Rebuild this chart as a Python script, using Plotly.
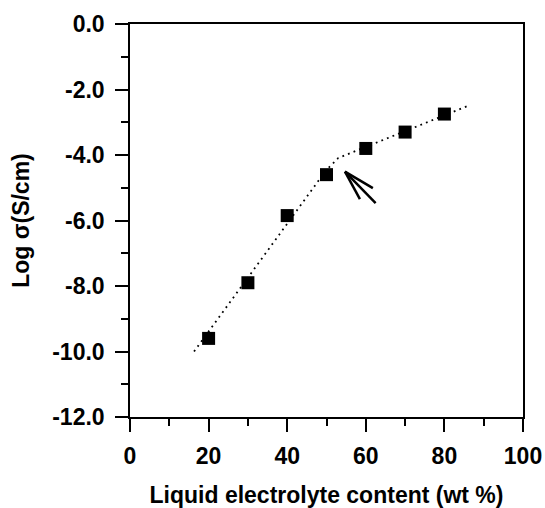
import plotly.graph_objects as go

# Data
content_wt = [20, 30, 40, 50, 60, 70, 80]
log_sigma = [-9.6, -7.9, -5.85, -4.6, -3.8, -3.3, -2.75]

# Dotted guide line
guide_x = [16.3, 50.0, 51.7, 53.0, 55.1, 86.0]
guide_y = [-10.0, -4.45, -4.25, -4.09, -3.99, -2.5]

# Arrow annotation (tip, shaft end, two barbs)
arrow_tip = (54.7, -4.51)
arrow_tail = (62.5, -5.47)
arrow_barb1 = (61.8, -5.01)
arrow_barb2 = (58.5, -5.35)

x_tickvals = [0, 20, 40, 60, 80, 100]
x_ticktext = ["<b>0</b>", "<b>20</b>", "<b>40</b>", "<b>60</b>", "<b>80</b>", "<b>100</b>"]
y_tickvals = [-12, -10, -8, -6, -4, -2, 0]
y_ticktext = ["<b>-12.0</b>", "<b>-10.0</b>", "<b>-8.0</b>", "<b>-6.0</b>",
              "<b>-4.0</b>", "<b>-2.0</b>", "<b>0.0</b>"]

FONT = "Liberation Sans, Arial, sans-serif"
FS = 23

fig = go.Figure()
fig.add_trace(go.Scatter(x=guide_x, y=guide_y, mode="lines",
                         line=dict(color="black", width=1.8, dash="1.8px,4.2px"),
                         hoverinfo="skip", showlegend=False))
fig.add_trace(go.Scatter(x=content_wt, y=log_sigma, mode="markers",
                         marker=dict(symbol="square", size=13, color="black",
                                     line=dict(width=0)),
                         showlegend=False))

for end in (arrow_tail, arrow_barb1, arrow_barb2):
    fig.add_shape(type="line", xref="x", yref="y",
                  x0=arrow_tip[0], y0=arrow_tip[1], x1=end[0], y1=end[1],
                  line=dict(color="black", width=2.5))

axis_common = dict(showline=True, linecolor="black", linewidth=1.5, mirror=True,
                   ticks="outside", ticklen=13, tickwidth=1.5, tickcolor="black",
                   showgrid=False, zeroline=False, automargin=False,
                   tickfont=dict(family=FONT, size=FS, color="black"))

fig.update_xaxes(range=[0, 100], tickvals=x_tickvals, ticktext=x_ticktext,
                 minor=dict(dtick=10, tick0=0, ticks="outside", ticklen=7,
                            tickwidth=1.5, tickcolor="black", showgrid=False),
                 ticklabelstandoff=5,
                 title=dict(text="<b>Liquid electrolyte content (wt %)</b>",
                            font=dict(family=FONT, size=FS, color="black"),
                            standoff=22),
                 **axis_common)
fig.update_yaxes(range=[-12, 0], tickvals=y_tickvals, ticktext=y_ticktext,
                 minor=dict(dtick=1, tick0=0, ticks="outside", ticklen=7,
                            tickwidth=1.5, tickcolor="black", showgrid=False),
                 ticklabelstandoff=6,
                 title=dict(text="<b>Log σ(S/cm)</b>",
                            font=dict(family=FONT, size=FS, color="black"),
                            standoff=16),
                 **axis_common)

fig.update_layout(width=545, height=508,
                  margin=dict(l=130, r=22, t=24, b=91),
                  plot_bgcolor="white", paper_bgcolor="white",
                  showlegend=False)

fig.write_html("out.html")
